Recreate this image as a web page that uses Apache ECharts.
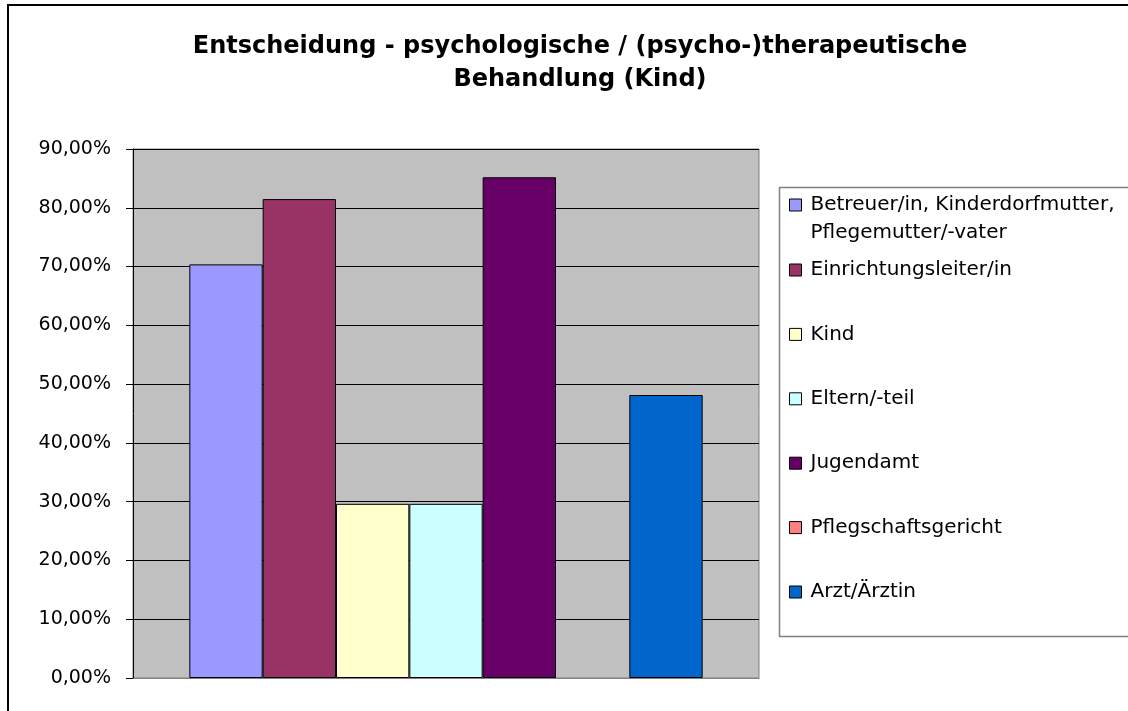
<!DOCTYPE html>
<html>
<head>
<meta charset="utf-8">
<script src="https://cdn.jsdelivr.net/npm/echarts@6/dist/echarts.min.js"></script>
<style>
  html, body { margin: 0; padding: 0; background: #ffffff; }
  #chart { width: 1128px; height: 711px; }
</style>
</head>
<body>
<div id="chart"></div>
<script>
// ---- data ----
const chartTitle = 'Entscheidung - psychologische / (psycho-)therapeutische\nBehandlung (Kind)';
const categories = [''];
const seriesNames = [
  'Betreuer/in, Kinderdorfmutter,\nPflegemutter/-vater',
  'Einrichtungsleiter/in',
  'Kind',
  'Eltern/-teil',
  'Jugendamt',
  'Pflegschaftsgericht',
  'Arzt/Ärztin'
];
const seriesValues = [0.7037, 0.8148, 0.2963, 0.2963, 0.8519, 0, 0.4815];
const seriesColors = ['#9999FF', '#993366', '#FFFFCC', '#CCFFFF', '#660066', '#FF8080', '#0066CC'];
const yMin = 0, yMax = 0.9, yStep = 0.1;

// ---- chart ----
const chart = echarts.init(document.getElementById('chart'), null, { renderer: 'canvas' });
const FONT = 'DejaVu Sans';

function fmtPct(v) {
  return (v * 100).toFixed(2).replace('.', ',') + '%';
}

const series = seriesNames.map((name, i) => ({
  name: name,
  type: 'bar',
  data: [seriesValues[i]],
  barGap: '0%',
  barCategoryGap: '18%',
  itemStyle: {
    color: seriesColors[i],
    borderColor: '#000000',
    borderWidth: seriesValues[i] > 0 ? 1 : 0
  },
  emphasis: { disabled: true },
  animation: false
}));

const legendText = { fontFamily: FONT, fontSize: 20, color: '#000000', lineHeight: 28 };

// one legend block per entry, stacked in the legend box
function legendCenter(i) { return i === 0 ? 205 : 270 + (i - 1) * 64.4; }
const legends = seriesNames.map((name, i) => {
  const twoLine = name.indexOf('\n') >= 0;
  return {
    data: [name],
    orient: 'vertical',
    left: 789,
    top: twoLine ? legendCenter(i) - 42 : legendCenter(i) - 14,
    padding: 0,
    icon: 'rect',
    itemWidth: 12,
    itemHeight: 12,
    itemGap: 0,
    selectedMode: false,
    itemStyle: { borderColor: '#000000', borderWidth: 1 },
    formatter: function (n) {
      const lines = n.split('\n').map(l => '{a|' + l + '}');
      // a blank leading row keeps the marker level with the first text row
      return (lines.length > 1 ? '{s| }\n' : '') + lines.join('\n');
    },
    textStyle: Object.assign({}, legendText, {
      rich: {
        a: Object.assign({ padding: [0, 0, 0, 4] }, legendText),
        s: Object.assign({}, legendText)
      }
    })
  };
});

const option = {
  animation: false,
  backgroundColor: '#ffffff',
  title: {
    text: chartTitle,
    left: 580,
    top: 30,
    textAlign: 'center',
    padding: 0,
    textStyle: {
      fontFamily: FONT,
      fontSize: 24,
      fontWeight: 'bold',
      color: '#000000',
      lineHeight: 33
    }
  },
  legend: legends,
  grid: {
    left: 133,
    right: 369,
    top: 149,
    bottom: 33,
    show: true,
    backgroundColor: '#C0C0C0',
    borderColor: '#808080',
    borderWidth: 1,
    containLabel: false
  },
  xAxis: {
    type: 'category',
    data: categories,
    axisLine: { show: true, lineStyle: { color: '#808080', width: 1 } },
    axisTick: { show: false },
    axisLabel: { show: false },
    splitLine: { show: false }
  },
  yAxis: {
    type: 'value',
    min: yMin,
    max: yMax,
    interval: yStep,
    axisLine: { show: true, lineStyle: { color: '#000000', width: 1 } },
    axisTick: { show: true, length: 7, lineStyle: { color: '#000000', width: 1 } },
    axisLabel: {
      formatter: fmtPct,
      fontFamily: FONT,
      fontSize: 19,
      color: '#000000',
      margin: 22
    },
    splitLine: { show: true, lineStyle: { color: '#000000', width: 1 } }
  },
  series: series,
  graphic: [
    {
      type: 'rect',
      silent: true,
      z: -10,
      shape: { x: 8, y: 5, width: 1140, height: 720 },
      style: { fill: 'none', stroke: '#000000', lineWidth: 2 }
    },
    {
      type: 'rect',
      silent: true,
      z: -5,
      shape: { x: 779.5, y: 187.5, width: 360, height: 449 },
      style: { fill: '#ffffff', stroke: '#808080', lineWidth: 1.5 }
    }
  ]
};

chart.setOption(option);
</script>
</body>
</html>
